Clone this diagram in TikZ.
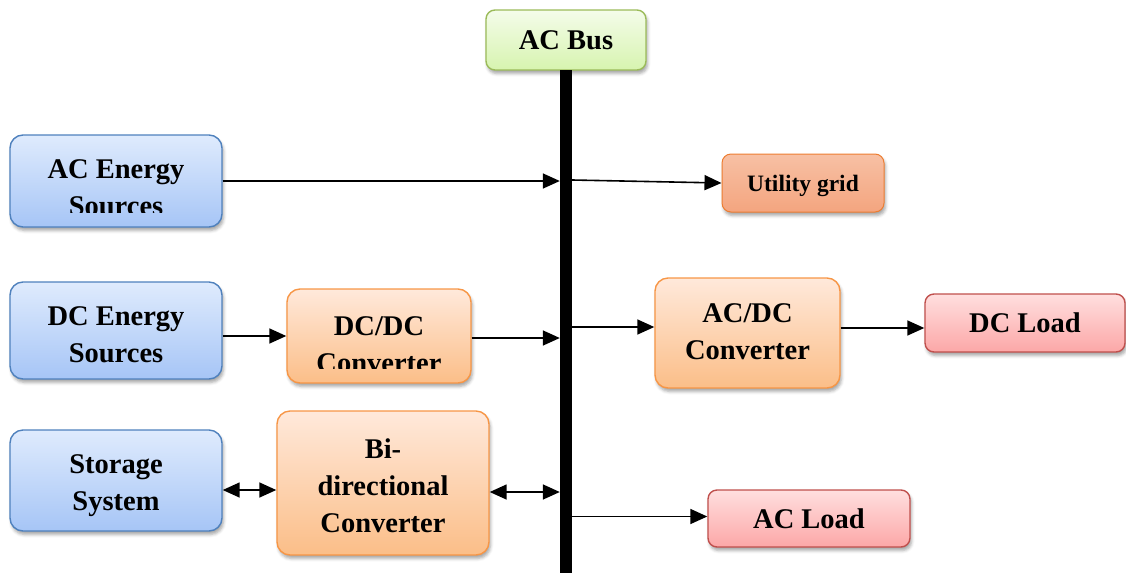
\documentclass[tikz,border=0pt]{standalone}
\usepackage{fontspec}
\setmainfont{Liberation Serif}
\usetikzlibrary{arrows.meta,shadows.blur}

\definecolor{bluetop}{HTML}{DFEBFD}
\definecolor{bluebot}{HTML}{A6C5F6}
\definecolor{blueline}{HTML}{4F81BD}
\definecolor{greentop}{HTML}{F4FCEA}
\definecolor{greenbot}{HTML}{D7F4AF}
\definecolor{greenline}{HTML}{9BBB59}
\definecolor{orangetop}{HTML}{FFE9DB}
\definecolor{orangebot}{HTML}{FBBE88}
\definecolor{orangeline}{HTML}{F79646}
\definecolor{salmontop}{HTML}{F7C0A4}
\definecolor{salmonbot}{HTML}{F4A57F}
\definecolor{salmonline}{HTML}{ED7D31}
\definecolor{pinktop}{HTML}{FFDFDF}
\definecolor{pinkbot}{HTML}{FCA7A7}
\definecolor{pinkline}{HTML}{C0504D}

\tikzset{
  box/.style={rounded corners=13pt, line width=1.4pt, inner sep=0pt,
    align=center, text depth=0pt, font=\fontsize{28.5}{37}\selectfont\bfseries,
    blur shadow={shadow xshift=1.5pt, shadow yshift=-3.5pt,
      shadow blur radius=3pt, shadow opacity=35}},
  srcbox/.style={box, draw=blueline, top color=bluetop, bottom color=bluebot},
  busbox/.style={box, rounded corners=9pt, draw=greenline, top color=greentop, bottom color=greenbot},
  convbox/.style={box, draw=orangeline, top color=orangetop, bottom color=orangebot},
  gridbox/.style={box, rounded corners=9pt, line width=1pt, draw=salmonline,
    top color=salmontop, bottom color=salmonbot,
    font=\fontsize{23.5}{30}\selectfont\bfseries},
  loadbox/.style={box, rounded corners=9pt, draw=pinkline, top color=pinktop, bottom color=pinkbot},
  lbl/.style={align=center, inner sep=0pt, font=\fontsize{28.5}{37}\selectfont\bfseries},
  tip/.style={Triangle[length=17pt,width=15pt]},
  flow/.style={line width=1.6pt, -{Triangle[length=17pt,width=15pt]}},
  twoway/.style={line width=1.6pt, {Triangle[length=17pt,width=15pt]}-{Triangle[length=17pt,width=15pt]}},
}

\begin{document}
\begin{tikzpicture}[x=1pt, y=-1pt]
\useasboundingbox (0,0) rectangle (1126,573);

% AC bus label and bar
\node[busbox, minimum width=160pt, minimum height=60pt] (bus) at (566,40) {AC Bus};
\node[fill=black, inner sep=0pt, minimum width=12pt, minimum height=503pt] (bar) at (566,321.5) {};

% sources on the left
\node[srcbox, minimum width=212pt, minimum height=92pt] (ace) at (116,181) {};
\node[srcbox, minimum width=212pt, minimum height=97pt] (dce) at (116,330.5) {};
\node[srcbox, minimum width=212pt, minimum height=101pt] (sto) at (116,480.5) {};

% converters
\node[convbox, minimum width=184pt, minimum height=94pt] (dcdc) at (379,336) {};
\node[convbox, minimum width=212pt, minimum height=144pt] (bidir) at (383,483) {};
\node[convbox, minimum width=185pt, minimum height=110pt] (acdc) at (747.5,333) {};

% grid and loads
\node[gridbox, minimum width=162pt, minimum height=58pt] (util) at (803,183) {Utility grid};
\node[loadbox, minimum width=200pt, minimum height=58pt] (dcl) at (1025,323) {DC Load};
\node[loadbox, minimum width=202pt, minimum height=57pt] (acl) at (809,518.5) {AC Load};

% labels (the two-line ones with a cut bottom line)
\begin{scope}
  \clip ([yshift=15pt]ace.south west) rectangle (ace.north east);
  \node[lbl] at ([yshift=-7pt]ace.center) {AC Energy\\Sources};
\end{scope}
\begin{scope}
  \clip ([yshift=15pt]dcdc.south west) rectangle (dcdc.north east);
  \node[lbl] at ([yshift=-9pt]dcdc.center) {DC/DC\\Converter};
\end{scope}
\node[lbl] at ([yshift=-4pt]dce.center) {DC Energy\\Sources};
\node[lbl] at ([yshift=-5pt]sto.center) {Storage\\System};
\node[lbl] at ([yshift=-3pt]bidir.center) {Bi-\\directional\\Converter};
\node[lbl] at ([yshift=1pt]acdc.center) {AC/DC\\Converter};

% connectors
\draw[flow] (ace.east) -- (ace.east -| bar.west);
\draw[flow] ([yshift=3pt]util.west -| bar.east) -- (util.west);
\draw[flow] (dcdc.west -| dce.east) -- (dcdc.west);
\draw[flow] ([yshift=-2pt]dcdc.east) -- ([yshift=-2pt]dcdc.east -| bar.west);
\draw[flow] ([yshift=6pt]acdc.west -| bar.east) -- ([yshift=6pt]acdc.west);
\draw[flow] ([yshift=5pt]acdc.east) -- ([yshift=5pt]acdc.east -| dcl.west);
\draw[twoway] ([yshift=-7pt]bidir.west -| sto.east) -- ([yshift=-7pt]bidir.west);
\draw[twoway] ([yshift=-9pt]bidir.east) -- ([yshift=-9pt]bidir.east -| bar.west);
\draw[flow] ([yshift=2pt]acl.west -| bar.east) -- ([yshift=2pt]acl.west);
\end{tikzpicture}
\end{document}
